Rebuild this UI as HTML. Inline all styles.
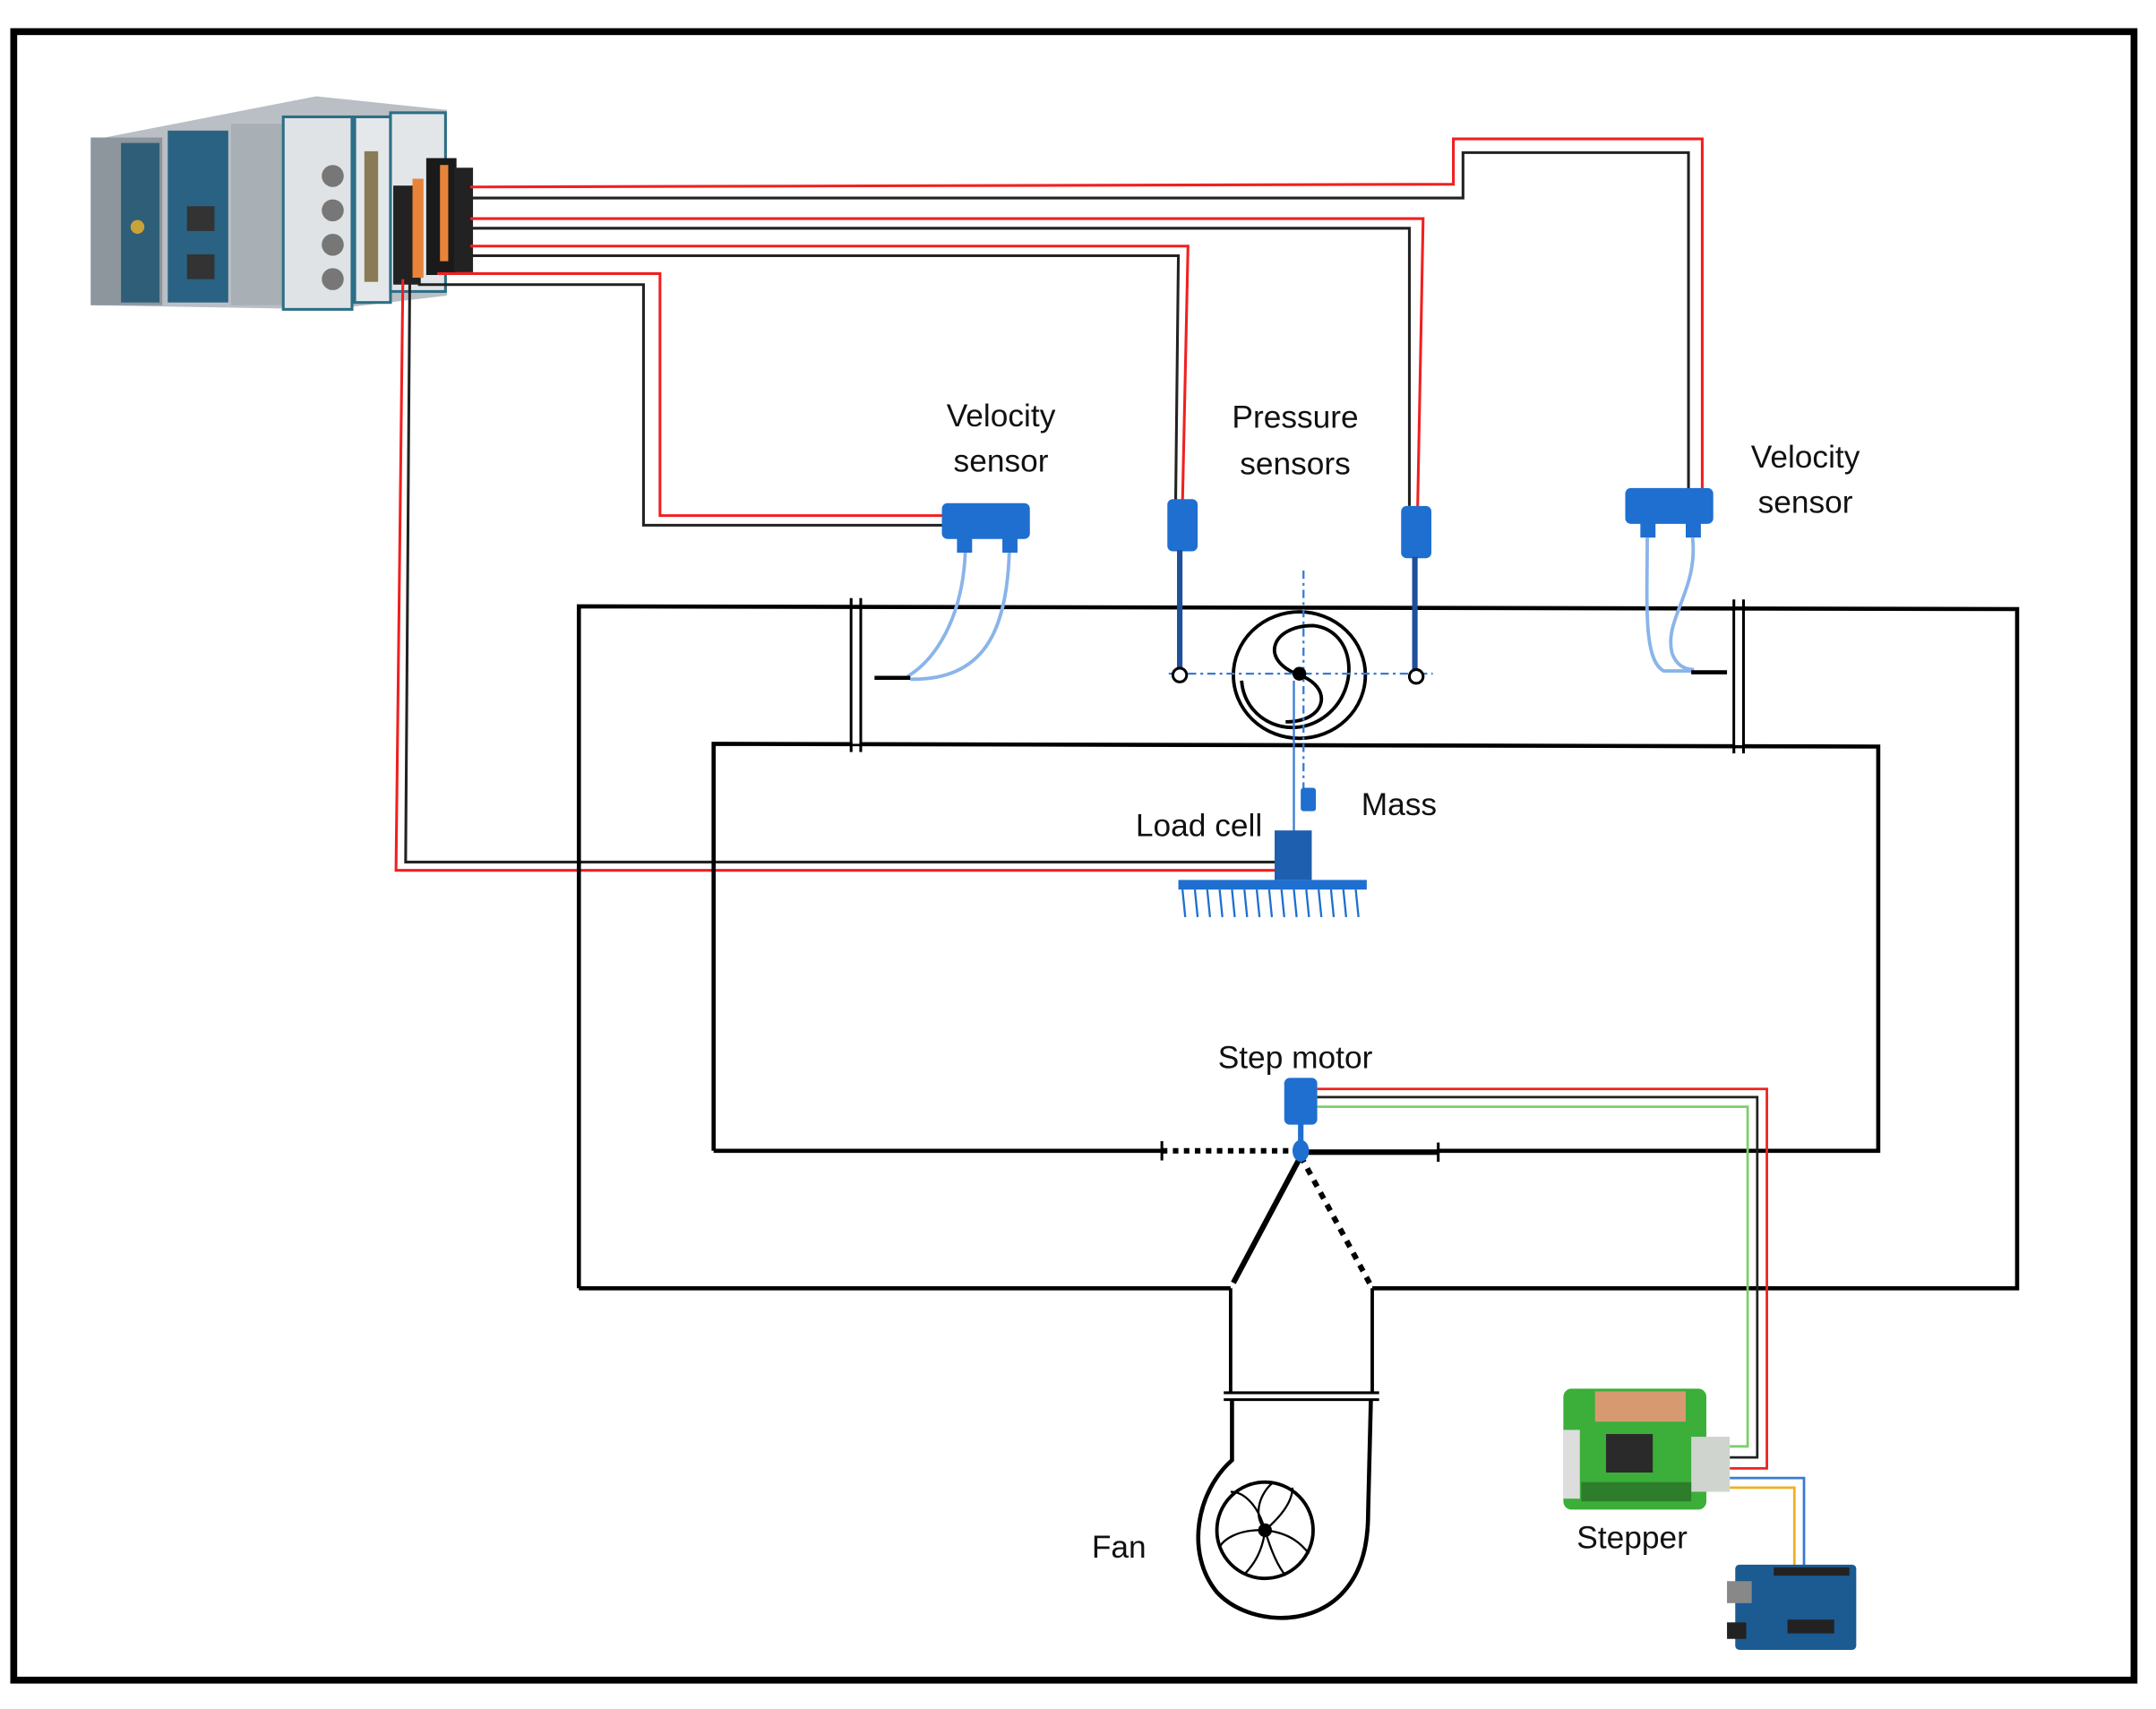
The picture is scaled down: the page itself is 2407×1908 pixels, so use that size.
<!DOCTYPE html>
<html><head><meta charset="utf-8"><style>
html,body{margin:0;padding:0;background:#fff;}
svg{display:block}
text{font-family:"Liberation Sans",sans-serif;font-size:23px;fill:#111}
</style></head><body>
<svg width="2407" height="1908" viewBox="0 0 1568 1243" preserveAspectRatio="none" xmlns="http://www.w3.org/2000/svg">
<rect x="0" y="0" width="1568" height="1243" fill="#fff"/>
<rect x="10" y="23" width="1542" height="1199" fill="none" stroke="#000" stroke-width="5"/>

<!-- DAQ device -->
<g>
<polygon points="66,102 230,70 325,80 325,215 240,225 66,222" fill="#b9bfc4"/>
<rect x="66" y="100" width="52" height="122" fill="#8d969c"/>
<rect x="88" y="104" width="28" height="116" fill="#2f5f78"/>
<rect x="122" y="95" width="44" height="125" fill="#2a6283"/>
<rect x="136" y="150" width="20" height="18" fill="#333"/>
<rect x="136" y="185" width="20" height="18" fill="#333"/>
<circle cx="100" cy="165" r="5" fill="#c9a23a"/>
<rect x="168" y="90" width="38" height="132" fill="#a9b0b5"/>
<rect x="206" y="85" width="50" height="140" fill="#dfe3e6" stroke="#2d6e86" stroke-width="2"/>
<circle cx="242" cy="128" r="8" fill="#777"/><circle cx="242" cy="153" r="8" fill="#777"/><circle cx="242" cy="178" r="8" fill="#777"/><circle cx="242" cy="203" r="8" fill="#777"/>
<rect x="258" y="85" width="26" height="135" fill="#e5e8ea" stroke="#2d6e86" stroke-width="2"/>
<rect x="265" y="110" width="10" height="95" fill="#8a7a55"/>
<rect x="284" y="82" width="40" height="130" fill="#e2e6e8" stroke="#2d6e86" stroke-width="2"/>
<rect x="286" y="135" width="20" height="72" fill="#222"/>
<rect x="300" y="130" width="8" height="72" fill="#e8843a"/>
<rect x="310" y="115" width="22" height="85" fill="#1a1a1a"/>
<rect x="320" y="120" width="6" height="70" fill="#e8843a"/>
<rect x="330" y="122" width="14" height="76" fill="#222"/>
</g>

<!-- DAQ wires -->
<g fill="none" stroke-width="2">
<polyline stroke="#f02020" points="342,136 1057,134 1057,101 1238,101 1238,357"/>
<polyline stroke="#222" points="342,144 1064,144 1064,111 1228,111 1228,357"/>
<polyline stroke="#f02020" points="342,159 1035,159 1031,370"/>
<polyline stroke="#222" points="342,166 1025,166 1025,368"/>
<polyline stroke="#f02020" points="342,179 864,179 860,366"/>
<polyline stroke="#222" points="342,186 857,186 855,366"/>
<polyline stroke="#f02020" points="318,199 480,199 480,375 686,375"/>
<polyline stroke="#222" points="304,207 468,207 468,382 686,382"/>
<polyline stroke="#f02020" points="293,203 288,633 928,633"/>
<polyline stroke="#222" points="298,205 295,627 928,627"/>
</g>

<!-- Duct -->
<g fill="none" stroke="#000" stroke-width="3">
<polyline points="421,937 421,441 1467,443 1467,937 998,937"/>
<polyline points="895,937 421,937"/>
<polyline points="519,837 519,541 1366,543 1366,837 1046,837"/>
<line x1="519" y1="837" x2="845" y2="837"/>
<line x1="948" y1="838" x2="1046" y2="838" stroke-width="4"/>
<line x1="845" y1="837" x2="940" y2="837" stroke-dasharray="4,4" stroke-width="4"/>
<line x1="845" y1="830" x2="845" y2="844" stroke-width="2"/>
<line x1="1046" y1="831" x2="1046" y2="845" stroke-width="2"/>
<line x1="946" y1="841" x2="897" y2="933" stroke-width="4"/>
<line x1="946" y1="841" x2="997" y2="935" stroke-width="4" stroke-dasharray="5,5"/>
<!-- flanges -->
<line x1="619" y1="435" x2="619" y2="547" stroke-width="2"/>
<line x1="626" y1="435" x2="626" y2="547" stroke-width="2"/>
<line x1="1261" y1="436" x2="1261" y2="548" stroke-width="2"/>
<line x1="1268" y1="436" x2="1268" y2="548" stroke-width="2"/>
<rect x="620" y="443" width="5" height="98" fill="#fff" stroke="none"/>
<rect x="1262" y="444" width="5" height="98" fill="#fff" stroke="none"/>
<!-- fan duct -->
<line x1="895" y1="937" x2="895" y2="1013" stroke-width="2.5"/>
<line x1="998" y1="937" x2="998" y2="1013" stroke-width="2.5"/>
<line x1="890" y1="1013" x2="1003" y2="1013" stroke-width="2"/>
<line x1="890" y1="1018" x2="1003" y2="1018" stroke-width="2"/>
<path d="M896,1018 L896,1062 C870,1085 862,1130 885,1158 C905,1180 950,1185 975,1160 C992,1143 995,1120 995,1100 L997,1018" stroke-width="3"/>
<circle cx="920" cy="1113" r="35" stroke-width="2.5"/>
</g>
<g stroke="#000" stroke-width="1.5" fill="none">
<path d="M920,1113 C915,1095 905,1085 895,1085"/>
<path d="M920,1113 C935,1100 940,1090 940,1082"/>
<path d="M920,1113 C940,1115 948,1125 952,1130"/>
<path d="M920,1113 C918,1130 910,1140 905,1145"/>
<path d="M920,1113 C900,1112 890,1120 887,1125"/>
<path d="M920,1113 C925,1130 930,1140 935,1146"/>
<path d="M920,1113 C910,1100 918,1085 925,1079"/>
</g>
<circle cx="920" cy="1113" r="5" fill="#000"/>

<!-- rotor in test section -->
<g fill="none" stroke="#000" stroke-width="2.5">
<ellipse cx="945" cy="491" rx="48" ry="46"/>
<path d="M945,491 C915,480 925,455 955,455 C985,458 990,500 965,520 C940,540 905,525 903,495"/>
<path d="M945,491 C970,500 965,525 935,525"/>
</g>
<g stroke="#3a7bd5" stroke-width="1.5" stroke-dasharray="6,3,2,3" fill="none">
<line x1="850" y1="490" x2="1042" y2="490"/>
<line x1="948" y1="415" x2="948" y2="590"/>
</g>
<circle cx="945" cy="490" r="5" fill="#000"/>
<line x1="941" y1="495" x2="941" y2="605" stroke="#3a7bd5" stroke-width="1.5"/>
<rect x="946" y="573" width="11" height="17" rx="2" fill="#1e6fd0"/>

<!-- Load cell -->
<rect x="927" y="604" width="27" height="36" fill="#1e5fb0"/>
<rect x="857" y="640" width="137" height="7" fill="#1e6fd0"/>
<g stroke="#1e6fd0" stroke-width="1.5">
<line x1="860" y1="647" x2="862" y2="667"/><line x1="869" y1="647" x2="871" y2="667"/><line x1="878" y1="647" x2="880" y2="667"/><line x1="887" y1="647" x2="889" y2="667"/><line x1="896" y1="647" x2="898" y2="667"/><line x1="905" y1="647" x2="907" y2="667"/><line x1="914" y1="647" x2="916" y2="667"/><line x1="923" y1="647" x2="925" y2="667"/><line x1="932" y1="647" x2="934" y2="667"/><line x1="941" y1="647" x2="943" y2="667"/><line x1="950" y1="647" x2="952" y2="667"/><line x1="959" y1="647" x2="961" y2="667"/><line x1="968" y1="647" x2="970" y2="667"/><line x1="977" y1="647" x2="979" y2="667"/><line x1="986" y1="647" x2="988" y2="667"/>
</g>

<!-- Pressure sensors -->
<rect x="849" y="363" width="22" height="38" rx="4" fill="#1e6fd0"/>
<line x1="858" y1="400" x2="858" y2="486" stroke="#1e4f9a" stroke-width="4"/>
<circle cx="858" cy="491" r="5" fill="#fff" stroke="#000" stroke-width="2"/>
<rect x="1019" y="368" width="22" height="38" rx="4" fill="#1e6fd0"/>
<line x1="1029" y1="405" x2="1029" y2="487" stroke="#1e4f9a" stroke-width="4"/>
<circle cx="1030" cy="492" r="5" fill="#fff" stroke="#000" stroke-width="2"/>

<!-- Velocity sensor left -->
<rect x="685" y="366" width="64" height="26" rx="4" fill="#1e6fd0"/>
<rect x="696" y="390" width="11" height="12" fill="#1e6fd0"/>
<rect x="729" y="390" width="11" height="12" fill="#1e6fd0"/>
<g fill="none" stroke="#8ab4ea" stroke-width="2.5">
<path d="M702,402 C700,450 680,480 660,492"/>
<path d="M734,402 C732,460 715,495 662,494"/>
</g>
<line x1="636" y1="493" x2="662" y2="493" stroke="#000" stroke-width="3"/>

<!-- Velocity sensor right -->
<rect x="1182" y="355" width="64" height="26" rx="4" fill="#1e6fd0"/>
<rect x="1193" y="379" width="11" height="12" fill="#1e6fd0"/>
<rect x="1226" y="379" width="11" height="12" fill="#1e6fd0"/>
<g fill="none" stroke="#8ab4ea" stroke-width="2.5">
<path d="M1198,391 C1198,440 1195,480 1210,488 L1232,488"/>
<path d="M1231,391 C1235,430 1210,450 1216,475 C1220,486 1228,487 1232,487"/>
</g>
<line x1="1230" y1="489" x2="1256" y2="489" stroke="#000" stroke-width="3"/>

<!-- Step motor -->
<rect x="934" y="784" width="24" height="34" rx="4" fill="#1e6fd0"/>
<line x1="946" y1="816" x2="946" y2="832" stroke="#1e6fd0" stroke-width="4"/>
<ellipse cx="946" cy="837" rx="6" ry="8" fill="#1e6fd0"/>
<g fill="none" stroke-width="1.8">
<polyline stroke="#f02020" points="958,792 1285,792 1285,1068 1258,1068"/>
<polyline stroke="#222" points="958,798 1278,798 1278,1060 1258,1060"/>
<polyline stroke="#7ccf6a" points="958,805 1271,805 1271,1052 1258,1052"/>
<polyline stroke="#3a7bd5" points="1258,1075 1312,1075 1312,1140"/>
<polyline stroke="#f0b020" points="1258,1082 1305,1082 1305,1140"/>
</g>

<!-- Stepper board -->
<rect x="1137" y="1010" width="104" height="88" rx="6" fill="#3cae3a"/>
<rect x="1160" y="1012" width="66" height="22" fill="#d79a70"/>
<rect x="1168" y="1043" width="34" height="28" fill="#2a2a2a"/>
<rect x="1137" y="1040" width="12" height="50" fill="#ddd"/>
<rect x="1230" y="1045" width="28" height="40" fill="#cfd4cf"/>
<rect x="1150" y="1078" width="80" height="14" fill="#2d7d2a"/>

<!-- Arduino -->
<rect x="1262" y="1138" width="88" height="62" rx="3" fill="#1c5a92"/>
<rect x="1256" y="1150" width="18" height="16" fill="#888"/>
<rect x="1256" y="1180" width="14" height="12" fill="#222"/>
<rect x="1300" y="1178" width="34" height="10" fill="#222"/>
<rect x="1290" y="1140" width="55" height="6" fill="#222"/>

<!-- Labels -->
<text x="728" y="310" text-anchor="middle">Velocity</text>
<text x="728" y="343" text-anchor="middle">sensor</text>
<text x="942" y="311" text-anchor="middle">Pressure</text>
<text x="942" y="345" text-anchor="middle">sensors</text>
<text x="1313" y="340" text-anchor="middle">Velocity</text>
<text x="1313" y="373" text-anchor="middle">sensor</text>
<text x="990" y="593">Mass</text>
<text x="918" y="608" text-anchor="end">Load cell</text>
<text x="942" y="777" text-anchor="middle">Step motor</text>
<text x="794" y="1133">Fan</text>
<text x="1187" y="1126" text-anchor="middle">Stepper</text>
</svg>
</body></html>
